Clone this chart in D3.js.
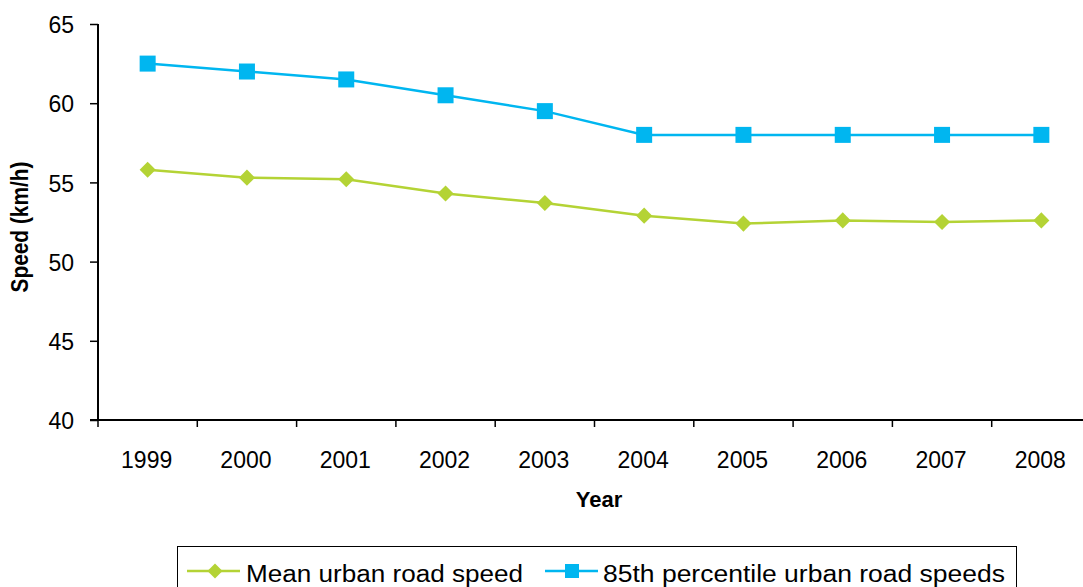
<!DOCTYPE html>
<html>
<head>
<meta charset="utf-8">
<script src="https://cdn.jsdelivr.net/npm/d3@7/dist/d3.min.js"></script>
<style>
  html, body { margin: 0; padding: 0; background: #fff; }
  svg { display: block; font-family: "Liberation Sans", Arial, sans-serif; }
</style>
</head>
<body>
<svg id="chart" width="1083" height="587"></svg>
<script>
const years = ["1999", "2000", "2001", "2002", "2003", "2004", "2005", "2006", "2007", "2008"];
const meanSpeed = [55.8, 55.3, 55.2, 54.3, 53.7, 52.9, 52.4, 52.6, 52.5, 52.6];
const pct85Speed = [62.5, 62.0, 61.5, 60.5, 59.5, 58.0, 58.0, 58.0, 58.0, 58.0];
const yTicks = [40, 45, 50, 55, 60, 65];
const seriesNames = ["Mean urban road speed", "85th percentile urban road speeds"];

const green = "#B4D335";
const blue = "#00B6F0";

const svg = d3.select("#chart");
const plotL = 98, plotR = 1091, plotT = 24, plotB = 420;

const x = d3.scaleBand().domain(years).range([plotL, plotR]);
const y = d3.scaleLinear().domain([40, 65]).range([plotB, plotT]);

// Y axis
const yAxis = svg.append("g")
  .attr("transform", `translate(${plotL},0)`)
  .call(d3.axisLeft(y).tickValues(yTicks).tickSize(8).tickPadding(16));
yAxis.select(".domain").attr("stroke", "#000").attr("stroke-width", 2).attr("d", `M0,${plotB}V${plotT}`);
yAxis.selectAll(".tick line").attr("stroke", "#000").attr("stroke-width", 1.5);
yAxis.selectAll(".tick text").attr("font-size", 23).attr("fill", "#000").attr("dy", "0.38em")
  .attr("font-family", "Liberation Sans, Arial, sans-serif");

// X axis with ticks at band boundaries
const xAxis = svg.append("g").attr("transform", `translate(0,${plotB})`);
xAxis.append("line").attr("x1", plotL - 8).attr("x2", plotR).attr("y1", 0).attr("y2", 0)
  .attr("stroke", "#000").attr("stroke-width", 2);
xAxis.selectAll("line.tk").data(years).join("line").attr("class", "tk")
  .attr("x1", d => x(d)).attr("x2", d => x(d)).attr("y1", 0).attr("y2", 7)
  .attr("stroke", "#000").attr("stroke-width", 1.5);
xAxis.selectAll("text").data(years).join("text")
  .attr("x", d => x(d) + x.bandwidth() / 2 - 1).attr("y", 48)
  .attr("text-anchor", "middle").attr("font-size", 23).attr("fill", "#000").text(d => d);

// Axis titles
svg.append("text").attr("x", 599).attr("y", 507).attr("text-anchor", "middle")
  .attr("font-size", 22).attr("font-weight", "bold").text("Year");
svg.append("text").attr("transform", `translate(28,227) rotate(-90)`).attr("text-anchor", "middle")
  .attr("font-size", 23).attr("font-weight", "bold").attr("textLength", 131)
  .attr("lengthAdjust", "spacingAndGlyphs").text("Speed (km/h)");

const cx = d => x(d) + x.bandwidth() / 2;
const line = d3.line().x((d, i) => cx(years[i])).y(d => y(d));

// Mean series: line + diamonds
svg.append("path").datum(meanSpeed).attr("d", line).attr("fill", "none")
  .attr("stroke", green).attr("stroke-width", 2.5);
const diamond = d3.symbol().type(d3.symbolDiamond2).size(165);
svg.selectAll("path.dm").data(meanSpeed).join("path").attr("class", "dm")
  .attr("transform", (d, i) => `translate(${cx(years[i])},${y(d)})`)
  .attr("d", diamond).attr("fill", green);

// 85th percentile series: line + squares
svg.append("path").datum(pct85Speed).attr("d", line).attr("fill", "none")
  .attr("stroke", blue).attr("stroke-width", 2.5);
const sq = 16;
svg.selectAll("rect.sq").data(pct85Speed).join("rect").attr("class", "sq")
  .attr("x", (d, i) => cx(years[i]) - sq / 2).attr("y", d => y(d) - sq / 2)
  .attr("width", sq).attr("height", sq).attr("fill", blue);

// Legend
const lg = svg.append("g");
lg.append("rect").attr("x", 177.5).attr("y", 546.5).attr("width", 839).attr("height", 50)
  .attr("fill", "#fff").attr("stroke", "#000").attr("stroke-width", 1);
const legendItems = [
  { name: seriesNames[0], color: green, kind: "diamond", x0: 187, tx: 246, tw: 277 },
  { name: seriesNames[1], color: blue, kind: "square", x0: 545, tx: 603, tw: 402 }
];
const ly = 571;
legendItems.forEach(it => {
  lg.append("line").attr("x1", it.x0).attr("x2", it.x0 + 53).attr("y1", ly).attr("y2", ly)
    .attr("stroke", it.color).attr("stroke-width", 2.5);
  if (it.kind === "diamond") {
    lg.append("path").attr("transform", `translate(${it.x0 + 28},${ly})`)
      .attr("d", d3.symbol().type(d3.symbolDiamond2).size(145)).attr("fill", it.color);
  } else {
    lg.append("rect").attr("x", it.x0 + 27 - 7).attr("y", ly - 7).attr("width", 14).attr("height", 14)
      .attr("fill", it.color);
  }
  lg.append("text").attr("x", it.tx).attr("y", 582).attr("font-size", 23).attr("fill", "#000")
    .attr("textLength", it.tw).attr("lengthAdjust", "spacingAndGlyphs").text(it.name);
});
</script>
</body>
</html>
